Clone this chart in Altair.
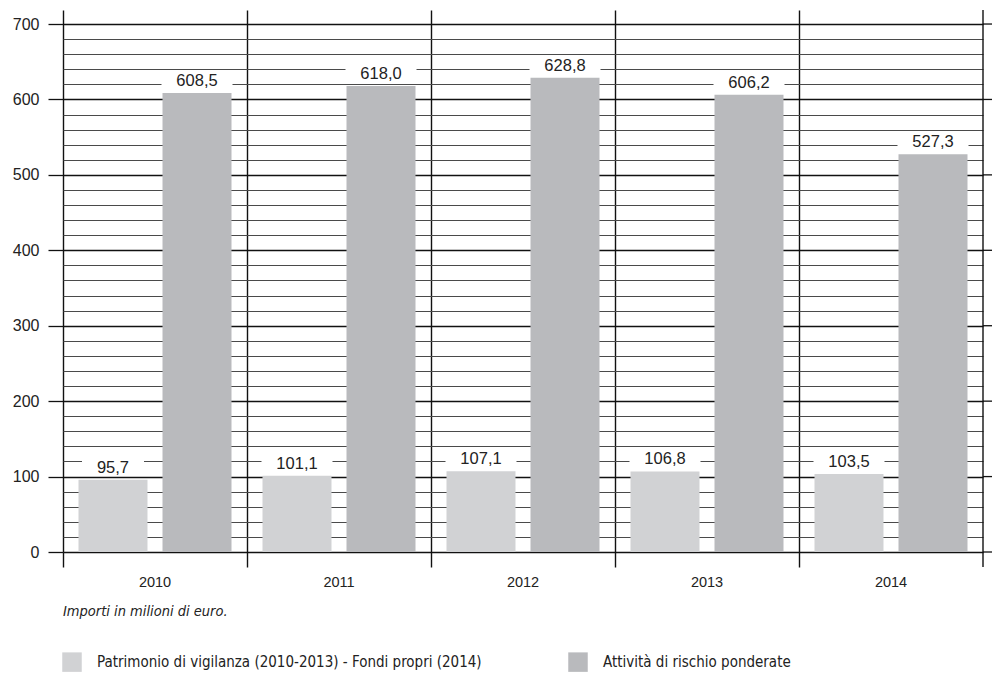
import altair as alt
import pandas as pd

years = ["2010", "2011", "2012", "2013", "2014"]
series = ["Patrimonio di vigilanza (2010-2013) - Fondi propri (2014)", "Attività di rischio ponderate"]
patrimonio = [95.7, 101.1, 107.1, 106.8, 103.5]
attivita = [608.5, 618.0, 628.8, 606.2, 527.3]
y_ticks = [0, 100, 200, 300, 400, 500, 600, 700]
grid_values = list(range(0, 701, 20))
colors = ["#d1d2d4", "#b9babd"]
footnote = "Importi in milioni di euro."

rows = []
for i, yr in enumerate(years):
    rows.append({"year": yr, "serie": series[0], "value": patrimonio[i]})
    rows.append({"year": yr, "serie": series[1], "value": attivita[i]})
df = pd.DataFrame(rows)

W, H = 920, 542
YMAX = 718.6
NUM_FONT = "Liberation Sans"
NARROW = "Liberation Sans Narrow, DejaVu Sans Condensed, Liberation Sans"

x_enc = alt.X(
    "year:N",
    sort=years,
    scale=alt.Scale(paddingInner=0, paddingOuter=0),
    axis=alt.Axis(
        title=None, domain=False, bandPosition=0, grid=True,
        gridColor="#111", gridWidth=1.4, ticks=True, tickSize=15,
        tickColor="#111", tickWidth=1.4, labelOffset=0,
        labelPadding=8, labelFontSize=14.5, labelFont=NUM_FONT,
        labelColor="#222", labelAngle=0,
    ),
)
xoff_enc = alt.XOffset(
    "serie:N", sort=series,
    scale=alt.Scale(domain=series, paddingInner=0.1786, paddingOuter=0.1845),
)
y_scale = alt.Scale(domain=[0, YMAX], nice=False)
y_axis = alt.Axis(
    title=None, domain=False, values=grid_values, grid=True,
    gridColor={"condition": {"test": "datum.value % 100 === 0", "value": "#111"}, "value": "#4a4a4a"},
    gridWidth={"condition": {"test": "datum.value % 100 === 0", "value": 1.3}, "value": 1.0},
    tickColor={"condition": {"test": "datum.value % 100 === 0", "value": "#111"}, "value": "transparent"},
    tickSize=15, tickWidth=1.3, labelPadding=9,
    labelExpr="datum.value % 100 === 0 ? datum.label : ''",
    format="d", labelFontSize=16, labelFont=NUM_FONT, labelColor="#222",
)
y_enc = alt.Y("value:Q", scale=y_scale, axis=y_axis)

base = alt.Chart(df).transform_calculate(
    label="replace(format(datum.value, '.1f'), '.', ',')",
    boxw="length(replace(format(datum.value, '.1f'), '.', ',')) * 9 + 26",
)

bars = base.mark_bar().encode(
    x=x_enc, xOffset=xoff_enc, y=y_enc,
    color=alt.Color(
        "serie:N", sort=series,
        scale=alt.Scale(domain=series, range=colors),
        legend=alt.Legend(
            title=None, orient="none", legendX=-1, legendY=642,
            direction="horizontal", symbolType="square", symbolSize=380,
            symbolStrokeWidth=0, symbolOpacity=1, labelFontSize=15,
            labelFont=NARROW, labelColor="#222", labelOffset=15,
            columnPadding=86, labelLimit=600,
        ),
    ),
)

boxes = base.mark_tick(color="white", thickness=15, yOffset=-12, opacity=1).encode(
    x=x_enc, xOffset=xoff_enc, y=y_enc,
    size=alt.Size("boxw:Q", scale=None, legend=None),
)

labels = base.mark_text(baseline="middle", dy=-12, fontSize=16.5, font=NUM_FONT, color="#222").encode(
    x=x_enc, xOffset=xoff_enc, y=y_enc, text="label:N",
)

ticks_df = pd.DataFrame({"value": y_ticks})
right_ticks = alt.Chart(ticks_df).mark_rule(color="#111", strokeWidth=1.3).encode(
    y=y_enc, x=alt.value(W), x2=alt.value(W + 9),
)
border = alt.Chart(pd.DataFrame({"a": [0]})).mark_rule(color="#111", strokeWidth=1.4).encode(
    x=alt.value(W), y=alt.value(0), y2=alt.value(H + 15),
)
note = alt.Chart(pd.DataFrame({"t": [footnote]})).mark_text(
    align="left", baseline="middle", fontSize=14.5, font=NARROW, fontStyle="italic", color="#222",
).encode(x=alt.value(0), y=alt.value(H + 60), text="t:N")

chart = alt.layer(bars, boxes, labels, right_ticks, border, note).properties(
    width=W, height=H,
    padding={"left": 63, "top": 10, "right": 15, "bottom": 125},
    autosize="none",
).configure_view(stroke=None)

chart.save("out.html", embed_options={"renderer": "svg", "actions": False})
